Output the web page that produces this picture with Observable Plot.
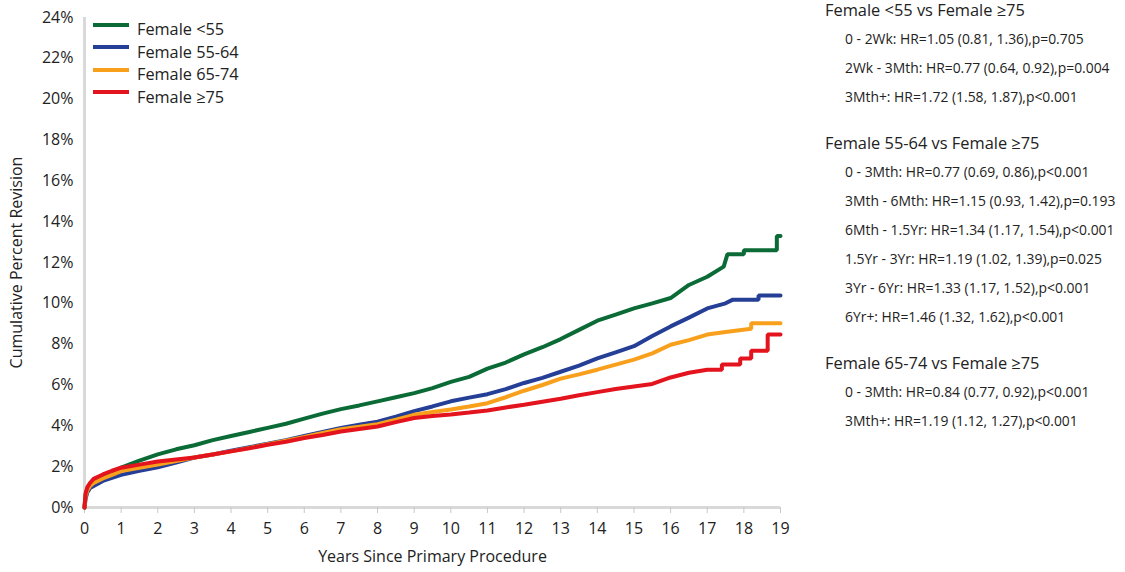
<!DOCTYPE html>
<html>
<head>
<meta charset="utf-8">
<script src="https://cdn.jsdelivr.net/npm/d3@7"></script>
<script src="https://cdn.jsdelivr.net/npm/@observablehq/plot@0.6"></script>
<style>
  html, body { margin: 0; padding: 0; background: #fff; }
  #wrap { position: relative; width: 1125px; height: 572px; font-family: "Open Sans", sans-serif; color: #222; }
  #chart { position: absolute; left: 0; top: 0; }
  #legend { position: absolute; left: 93px; top: 18px; font-size: 16.3px; }
  #legend .row { display: flex; align-items: center; height: 22.5px; }
  #legend .sw { width: 36px; height: 4px; margin-right: 8px; margin-top: -9px; }
  #notes { position: absolute; left: 825px; top: -1px; }
  #notes .h { font-size: 16.4px; height: 29px; line-height: 22px; }
  #notes .s { font-size: 13.9px; padding-left: 20px; height: 29px; line-height: 22px; }
  #notes .gap { height: 17px; }
</style>
</head>
<body>
<div id="wrap">
  <div id="chart"></div>
  <div id="legend"></div>
  <div id="notes"></div>
</div>
<script>
const seriesNames = ["Female <55", "Female 55-64", "Female 65-74", "Female \u226575"];
const seriesColors = ["#0b6b36", "#263f96", "#f8a01c", "#e3141d"];

const lt55Years = [0,0.03,0.08,0.15,0.25,0.5,0.75,1,1.5,2,2.5,3,3.5,4,4.5,5,5.5,6,6.5,7,7.5,8,8.5,9,9.5,10,10.5,11,11.5,12,12.5,13,13.5,14,14.5,15,15.5,16,16.5,17,17.45,17.55,18.0,18.0,18.9,18.9,19];
const lt55Pct   = [0,0.6,0.95,1.15,1.3,1.55,1.75,1.95,2.3,2.6,2.85,3.05,3.3,3.5,3.7,3.9,4.1,4.35,4.6,4.82,5.0,5.2,5.4,5.6,5.85,6.15,6.4,6.8,7.1,7.5,7.85,8.25,8.7,9.15,9.45,9.75,10.0,10.26,10.9,11.3,11.8,12.4,12.4,12.6,12.6,13.3,13.3];

const f5564Years = [0,0.03,0.08,0.15,0.25,0.5,0.75,1,1.5,2,2.5,3,3.5,4,4.5,5,5.5,6,6.5,7,7.5,8,8.5,9,9.5,10,10.5,11,11.5,12,12.5,13,13.5,14,14.5,15,15.5,16,16.5,17,17.5,17.7,18.4,18.4,19];
const f5564Pct   = [0,0.45,0.75,0.95,1.05,1.3,1.45,1.6,1.8,1.97,2.2,2.45,2.6,2.78,2.95,3.12,3.3,3.5,3.7,3.9,4.05,4.2,4.45,4.72,4.95,5.2,5.38,5.55,5.8,6.1,6.35,6.65,6.95,7.3,7.6,7.9,8.4,8.87,9.3,9.75,10.0,10.18,10.18,10.38,10.38];

const f6574Years = [0,0.03,0.08,0.15,0.25,0.5,0.75,1,1.5,2,2.5,3,3.5,4,4.5,5,5.5,6,6.5,7,7.5,8,8.5,9,9.5,10,10.5,11,11.5,12,12.5,13,13.5,14,14.5,15,15.5,16,16.5,17,17.5,18.2,18.2,19];
const f6574Pct   = [0,0.55,0.85,1.05,1.2,1.42,1.6,1.78,1.95,2.1,2.28,2.45,2.6,2.75,2.92,3.1,3.27,3.45,3.65,3.83,3.95,4.08,4.3,4.54,4.68,4.8,4.95,5.11,5.4,5.72,6.0,6.31,6.52,6.75,7.0,7.24,7.55,7.97,8.2,8.47,8.6,8.75,9.03,9.03];

const ge75Years = [0,0.03,0.08,0.15,0.25,0.5,0.75,1,1.5,2,2.5,3,3.5,4,4.5,5,5.5,6,6.5,7,7.5,8,8.5,9,9.5,10,10.5,11,11.5,12,12.5,13,13.5,14,14.5,15,15.5,16,16.5,17,17.4,17.4,17.9,17.9,18.2,18.2,18.65,18.65,19];
const ge75Pct   = [0,0.7,1.0,1.2,1.4,1.62,1.8,1.95,2.1,2.25,2.35,2.45,2.6,2.75,2.9,3.07,3.22,3.4,3.55,3.72,3.85,3.97,4.18,4.38,4.48,4.56,4.65,4.75,4.9,5.03,5.18,5.33,5.5,5.65,5.8,5.93,6.05,6.37,6.6,6.75,6.75,7.0,7.0,7.3,7.3,7.68,7.68,8.47,8.47];

const xTicks = [0,1,2,3,4,5,6,7,8,9,10,11,12,13,14,15,16,17,18,19];
const yTicks = [0,2,4,6,8,10,12,14,16,18,20,22,24];

const noteGroups = [
  {title: "Female <55 vs Female \u226575", lines: [
    "0 - 2Wk: HR=1.05 (0.81, 1.36),p=0.705",
    "2Wk - 3Mth: HR=0.77 (0.64, 0.92),p=0.004",
    "3Mth+: HR=1.72 (1.58, 1.87),p<0.001"]},
  {title: "Female 55-64 vs Female \u226575", lines: [
    "0 - 3Mth: HR=0.77 (0.69, 0.86),p<0.001",
    "3Mth - 6Mth: HR=1.15 (0.93, 1.42),p=0.193",
    "6Mth - 1.5Yr: HR=1.34 (1.17, 1.54),p<0.001",
    "1.5Yr - 3Yr: HR=1.19 (1.02, 1.39),p=0.025",
    "3Yr - 6Yr: HR=1.33 (1.17, 1.52),p<0.001",
    "6Yr+: HR=1.46 (1.32, 1.62),p<0.001"]},
  {title: "Female 65-74 vs Female \u226575", lines: [
    "0 - 3Mth: HR=0.84 (0.77, 0.92),p<0.001",
    "3Mth+: HR=1.19 (1.12, 1.27),p<0.001"]}
];

const allYears = [lt55Years, f5564Years, f6574Years, ge75Years];
const allPct = [lt55Pct, f5564Pct, f6574Pct, ge75Pct];
const data = [];
seriesNames.forEach((name, i) => {
  allYears[i].forEach((yr, j) => data.push({series: name, year: yr, pct: allPct[i][j]}));
});

const chart = Plot.plot({
  width: 810,
  height: 572,
  marginLeft: 84,
  marginRight: 30,
  marginTop: 17,
  marginBottom: 65,
  style: {fontFamily: "Open Sans, sans-serif", fontSize: "16px", color: "#222", background: "#fff"},
  x: {domain: [0, 19]},
  y: {domain: [0, 24]},
  color: {domain: seriesNames, range: seriesColors},
  marks: [
    Plot.ruleX([0], {stroke: "#d9d9d9", strokeWidth: 3}),
    Plot.ruleY([0], {stroke: "#d9d9d9", strokeWidth: 3}),
    Plot.axisY(yTicks, {tickSize: 0, tickPadding: 11, tickFormat: d => d + "%", label: "Cumulative Percent Revision", labelAnchor: "center", labelArrow: "none", labelOffset: 74, fill: "#222"}),
    Plot.axisX(xTicks, {tickSize: 6, tickPadding: 9, stroke: "#c8c8c8", fill: "#222", label: "Years Since Primary Procedure", labelAnchor: "center", labelArrow: "none", labelOffset: 54}),
    Plot.line(data, {x: "year", y: "pct", z: "series", stroke: "series", strokeWidth: 4, strokeLinejoin: "miter", curve: "linear"})
  ]
});
document.getElementById("chart").appendChild(chart);

const legend = document.getElementById("legend");
seriesNames.forEach((name, i) => {
  const row = document.createElement("div");
  row.className = "row";
  const sw = document.createElement("div");
  sw.className = "sw";
  sw.style.background = seriesColors[i];
  const t = document.createElement("span");
  t.textContent = name;
  row.appendChild(sw); row.appendChild(t);
  legend.appendChild(row);
});

const notes = document.getElementById("notes");
noteGroups.forEach((g, gi) => {
  const h = document.createElement("div");
  h.className = "h";
  h.textContent = g.title;
  notes.appendChild(h);
  g.lines.forEach(l => {
    const s = document.createElement("div");
    s.className = "s";
    s.textContent = l;
    notes.appendChild(s);
  });
  if (gi < noteGroups.length - 1) {
    const gap = document.createElement("div");
    gap.className = "gap";
    notes.appendChild(gap);
  }
});
</script>
</body>
</html>
